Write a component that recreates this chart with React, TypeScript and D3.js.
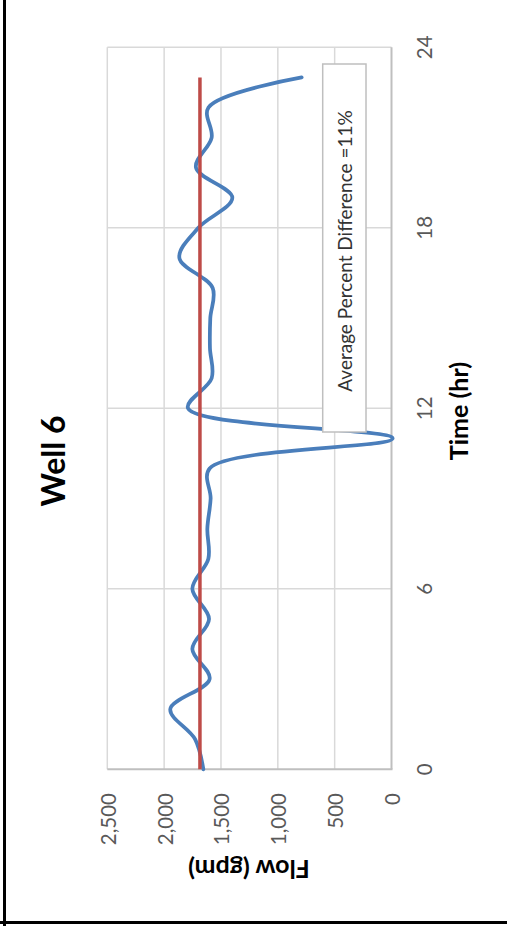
import React from "react";
import * as d3 from "d3";

const title = "Well 6";
const timeLabel = "Time (hr)";
const flowLabel = "Flow (gpm)";
const annotation = "Average Percent Difference =11%";

const hours = [0, 1, 2, 3, 4, 5, 6, 7, 8, 9, 10, 11, 12, 13, 14, 15, 16, 17, 18, 19, 20, 21, 22, 23];
const measuredFlow = [1655, 1728, 1946, 1600, 1752, 1605, 1752, 1611, 1620, 1591, 1600, -10, 1790, 1582, 1597, 1594, 1573, 1866, 1699, 1400, 1720, 1582, 1610, 790];
const averageHours = [0, 23];
const averageFlow = [1685, 1685];

const timeTicks = [0, 6, 12, 18, 24];
const flowTicks = [0, 500, 1000, 1500, 2000, 2500];

const W = 507;
const H = 926;
const FONT = "Lato, 'Open Sans', sans-serif";

export default function App() {
  // chart is rotated: time runs bottom->top, flow runs right->left
  const yT = d3.scaleLinear().domain([0, 24]).range([769.3, 47.3]);
  const xF = d3.scaleLinear().domain([0, 2500]).range([391.5, 107.3]);

  const fmt = d3.format(",");

  const line = d3
    .line<[number, number]>()
    .x((d) => xF(d[1]))
    .y((d) => yT(d[0]))
    .curve(d3.curveCatmullRom.alpha(0.5));

  const blue = line(hours.map((h, i) => [h, measuredFlow[i]] as [number, number])) || "";
  const red =
    d3
      .line<[number, number]>()
      .x((d) => xF(d[1]))
      .y((d) => yT(d[0]))(averageHours.map((h, i) => [h, averageFlow[i]] as [number, number])) || "";

  const [f0, f1] = xF.domain();
  const [t0, t1] = yT.domain();

  return (
    <svg
      width={W}
      height={H}
      style={{ position: "absolute", left: 0, top: 0, background: "#fff" }}
      fontFamily={FONT}
    >
      <rect x={0} y={0} width={W} height={H} fill="#fff" />
      {/* frame lines */}
      <line x1={4.5} y1={0} x2={4.5} y2={H} stroke="#000" strokeWidth={3} />
      <line x1={0} y1={922.5} x2={W} y2={922.5} stroke="#000" strokeWidth={3} />

      {/* gridlines: flow (vertical lines) */}
      {flowTicks
        .filter((f) => f !== 0)
        .map((f) => (
          <line key={"gf" + f} x1={xF(f)} x2={xF(f)} y1={yT(t1)} y2={yT(t0)} stroke="#d9d9d9" strokeWidth={1.5} />
        ))}
      {/* gridlines: time (horizontal lines) */}
      {timeTicks
        .filter((t) => t !== 0)
        .map((t) => (
          <line key={"gt" + t} x1={xF(f1)} x2={xF(f0)} y1={yT(t)} y2={yT(t)} stroke="#d9d9d9" strokeWidth={1.5} />
        ))}
      {/* axis lines */}
      <line x1={xF(f1)} x2={xF(f0) + 1} y1={yT(0)} y2={yT(0)} stroke="#bfbfbf" strokeWidth={2} />
      <line x1={xF(0)} x2={xF(0)} y1={yT(t1)} y2={yT(t0)} stroke="#bfbfbf" strokeWidth={2} />

      {/* series */}
      <path d={blue} fill="none" stroke="#4a7ebb" strokeWidth={3.75} strokeLinecap="round" strokeLinejoin="round" />
      <path d={red} fill="none" stroke="#be4b48" strokeWidth={3.5} />

      {/* annotation box */}
      <rect x={322.7} y={64} width={43.3} height={368} fill="#fff" stroke="#bfbfbf" strokeWidth={1.5} />
      <text
        transform={`translate(351.5,251) rotate(-90)`}
        textAnchor="middle"
        fontSize={19}
        fill="#333"
      >
        {annotation}
      </text>

      {/* time tick labels */}
      {timeTicks.map((t) => (
        <text
          key={"tt" + t}
          transform={`translate(431.5,${yT(t)}) rotate(-90)`}
          textAnchor="middle"
          fontSize={20.5}
          fill="#595959"
        >
          {t}
        </text>
      ))}
      {/* flow tick labels */}
      {flowTicks.map((f) => (
        <text
          key={"ft" + f}
          transform={`translate(${xF(f) + 8.5},793) rotate(-90)`}
          textAnchor="end"
          fontSize={20.5}
          fill="#595959"
        >
          {fmt(f)}
        </text>
      ))}

      {/* axis titles */}
      <text transform={`translate(468,411) rotate(-90)`} textAnchor="middle" fontSize={25} fontWeight="bold" fill="#000">
        {timeLabel}
      </text>
      <text transform={`translate(249,860) rotate(180)`} textAnchor="middle" fontSize={25} fontWeight="bold" fill="#000">
        {flowLabel}
      </text>

      {/* chart title */}
      <text transform={`translate(65,461) rotate(-90)`} textAnchor="middle" fontSize={32} fontWeight="bold" fill="#000">
        {title}
      </text>
    </svg>
  );
}
